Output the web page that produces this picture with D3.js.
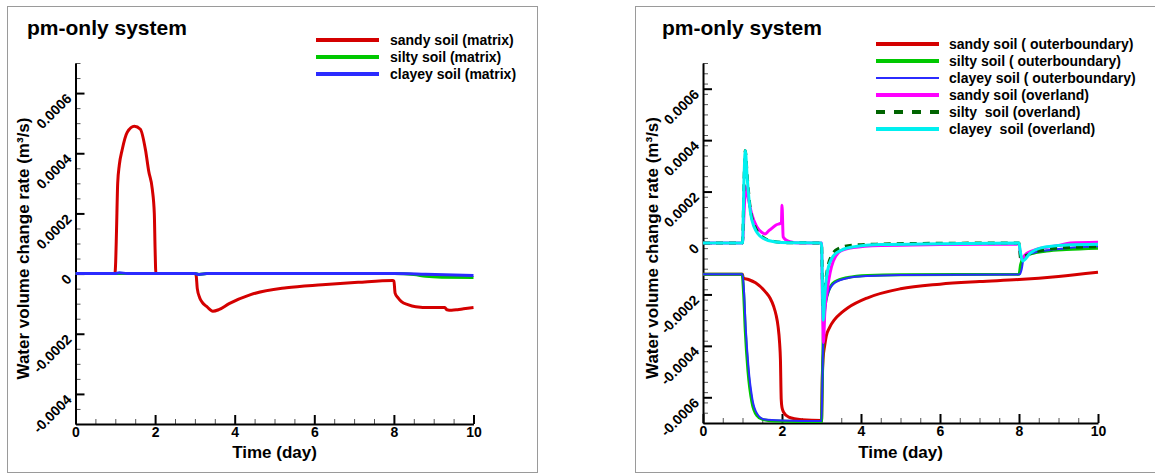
<!DOCTYPE html>
<html><head><meta charset="utf-8">
<script src="https://cdn.jsdelivr.net/npm/d3@7"></script>
<style>
body{margin:0;background:#fff}
svg{display:block}
text{font-family:"Liberation Sans",Arial,Helvetica,sans-serif;font-weight:bold;fill:#000;white-space:pre}
</style>
</head><body>
<svg id="chart" width="1155" height="473"></svg>
<script>
// ---------- tick labels ----------
const timeTicks = [0, 2, 4, 6, 8, 10];
const timeTickLabels = ["0", "2", "4", "6", "8", "10"];
const leftRateTicks = [-0.0004, -0.0002, 0, 0.0002, 0.0004, 0.0006];
const leftRateTickLabels = ["-0.0004", "-0.0002", "0", "0.0002", "0.0004", "0.0006"];
const rightRateTicks = [-0.0006, -0.0004, -0.0002, 0, 0.0002, 0.0004, 0.0006];
const rightRateTickLabels = ["-0.0006", "-0.0004", "-0.0002", "0", "0.0002", "0.0004", "0.0006"];

const panelTitle = "pm-only system";
const xTitle = "Time (day)";
const yTitle = "Water volume change rate (m³/s)";

// ---------- left panel series (matrix) ----------
const leftLabels = ["sandy soil (matrix)", "silty soil (matrix)", "clayey soil (matrix)"];

const sandyMatrixT = [0, 0.99, 1.01, 1.03, 1.06, 1.1, 1.17, 1.3, 1.48, 1.63, 1.76, 1.84, 1.93, 1.98, 2.0, 2.02, 3.0, 3.03, 3.06, 3.12, 3.18, 3.3, 3.45, 3.6, 3.86, 4.4, 5.3, 6.2, 7.1, 7.97, 8.0, 8.03, 8.1, 8.19, 8.35, 8.55, 8.9, 9.28, 9.33, 9.45, 9.6, 9.75, 10];
const sandyMatrixV = [0, 0, 0.00004, 0.00014, 0.0003, 0.00036, 0.00041, 0.00047, 0.00049, 0.00048, 0.00041, 0.00034, 0.00028, 0.0002, 0.00008, 0, 0, -0.000005, -0.00005, -0.00008, -0.000095, -0.00011, -0.000125, -0.00012, -0.0001, -0.00007, -0.000047, -0.000037, -0.000029, -0.000023, -0.000025, -0.000065, -0.00008, -0.000093, -0.000103, -0.00011, -0.000113, -0.000113, -0.00012, -0.000122, -0.00012, -0.000117, -0.000113];

const siltyMatrixT = [0, 3.0, 3.1, 3.3, 8.0, 8.5, 8.8, 9.2, 10];
const siltyMatrixV = [0, 0, -0.000003, 0, 0, -0.000003, -0.000009, -0.000012, -0.000013];

const clayeyMatrixT = [0, 1.0, 1.1, 1.3, 3.0, 3.1, 3.3, 8.0, 8.8, 10];
const clayeyMatrixV = [0, 0, 0.000003, 0, 0, -0.000003, 0, 0, -0.000002, -0.000006];

// ---------- right panel series (outer boundary / overland) ----------
const rightLabels = ["sandy soil ( outerboundary)", "silty soil ( outerboundary)", "clayey soil ( outerboundary)", "sandy soil (overland)", "silty  soil (overland)", "clayey  soil (overland)"];

const sandyOuterT = [0, 1.0, 1.02, 1.15, 1.33, 1.58, 1.7, 1.79, 1.85, 1.9, 1.94, 1.96, 1.98, 2.0, 2.04, 2.17, 2.5, 3.0, 3.02, 3.04, 3.08, 3.12, 3.2, 3.33, 3.5, 3.67, 4.17, 5, 6, 7, 8, 9, 10];
const sandyOuterV = [-0.000122, -0.000122, -0.000136, -0.000142, -0.000155, -0.00019, -0.000215, -0.000247, -0.00028, -0.000324, -0.00039, -0.000452, -0.000607, -0.00064, -0.000658, -0.000677, -0.000687, -0.00069, -0.00052, -0.00045, -0.0004, -0.000362, -0.00033, -0.000298, -0.000272, -0.000252, -0.000213, -0.000178, -0.00016, -0.00015, -0.000142, -0.00013, -0.000114];

const siltyOuterT = [0, 0.99, 1.03, 1.07, 1.14, 1.24, 1.36, 1.52, 1.8, 3.0, 3.02, 3.04, 3.08, 3.17, 3.33, 3.67, 4.17, 5, 8.0, 8.04, 8.1, 8.3, 8.7, 9.2, 10];
const siltyOuterV = [-0.000122, -0.000122, -0.0002, -0.00034, -0.0005, -0.00062, -0.00067, -0.000687, -0.000692, -0.000694, -0.00055, -0.00039, -0.00026, -0.00019, -0.000152, -0.000134, -0.000126, -0.000123, -0.000122, -0.000085, -0.00006, -0.000042, -0.000031, -0.000025, -0.00002];

const clayeyOuterT = [0, 1.0, 1.04, 1.08, 1.15, 1.25, 1.375, 1.54, 2.0, 3.0, 3.02, 3.04, 3.08, 3.17, 3.33, 3.67, 4.17, 5, 8.02, 8.07, 8.12, 8.35, 8.78, 9.2, 10];
const clayeyOuterV = [-0.000122, -0.000122, -0.000193, -0.000325, -0.00048, -0.000607, -0.000665, -0.000685, -0.00069, -0.000692, -0.00056, -0.000387, -0.00026, -0.000193, -0.000155, -0.000136, -0.000128, -0.000124, -0.000122, -0.0001, -0.000058, -0.000039, -0.000027, -0.00002, -0.000013];

const sandyOverT = [0, 1.0, 1.04, 1.08, 1.15, 1.23, 1.36, 1.5, 1.57, 1.65, 1.74, 1.85, 1.96, 1.985, 2.0, 2.03, 2.1, 2.2, 2.45, 3.0, 3.02, 3.05, 3.08, 3.15, 3.3, 3.5, 3.8, 4.5, 6, 8.0, 8.05, 8.2, 8.5, 9.0, 9.3, 10];
const sandyOverV = [0, 0, 0.00012, 0.00022, 0.00017, 0.000115, 0.000063, 0.00004, 0.000035, 0.000045, 0.000057, 0.00007, 0.000076, 0.000078, 0.000147, 0.000024, 0.000012, 0.000005, 0, 0, -0.0002, -0.000387, -0.00028, -0.00018, -0.00007, -0.00003, -0.000018, -0.00001, -0.000006, -0.000004, -0.00006, -0.00004, -0.000022, -0.00001, 0, 0.000003];

const siltyOverT = [0, 1.0, 1.04, 1.07, 1.12, 1.2, 1.3, 1.5, 1.8, 2.2, 3.0, 3.02, 3.04, 3.08, 3.15, 3.25, 3.45, 3.8, 4.5, 6, 8.0, 8.04, 8.1, 8.3, 8.6, 9.0, 10];
const siltyOverV = [0, 0, 0.00025, 0.00036, 0.00026, 0.00013, 0.00007, 0.000025, 0.000006, 0.000001, 0, -0.00013, -0.00025, -0.00018, -0.0001, -0.00005, -0.00002, -0.000008, -0.000004, -0.000001, 0, -0.00006, -0.000055, -0.00004, -0.000028, -0.00002, -0.000014];

const clayeyOverT = [0, 1.0, 1.04, 1.07, 1.12, 1.2, 1.3, 1.5, 1.8, 2.2, 3.0, 3.02, 3.045, 3.08, 3.15, 3.3, 3.5, 3.8, 4.5, 6, 8.0, 8.03, 8.09, 8.28, 8.53, 9.2, 10];
const clayeyOverV = [0, 0, 0.00026, 0.00036, 0.00025, 0.00012, 0.00006, 0.00002, 0.000005, 0.000001, 0, -0.00014, -0.0003, -0.00021, -0.00011, -0.00005, -0.000028, -0.000015, -0.000006, -0.000003, 0, -0.00003, -0.00007, -0.00004, -0.00002, -0.000008, -0.000005];

// ---------- drawing ----------
const svg = d3.select("#chart");
const zip = (t, v) => t.map((d, i) => [d, v[i]]);

function drawPanel(o) {
  const g = svg.append("g");
  // frame
  g.append("rect").attr("x", o.frame[0] + 0.5).attr("y", o.frame[1] + 0.5)
    .attr("width", o.frame[2]).attr("height", o.frame[3])
    .attr("fill", "none").attr("stroke", "#9a9a9a").attr("stroke-width", 1);

  const x = d3.scaleLinear().domain([0, 10]).range([o.x0, o.x1]);
  const y = d3.scaleLinear().domain(o.yDomain).range([o.yBottom, o.yTop]);

  // minor ticks
  const xMinor = d3.range(0, 10.001, 0.5).filter(v => Math.abs(v % 2) > 1e-9);
  const yMinor = d3.range(o.yDomain[0], o.yDomain[1] + 1e-9, o.yMinorStep)
    .filter(v => !o.yTicks.some(t => Math.abs(t - v) < 1e-9));

  g.append("g").attr("transform", `translate(0,${o.yBottom})`)
    .call(d3.axisBottom(x).tickValues(xMinor).tickSizeInner(-5).tickSizeOuter(0).tickFormat(""))
    .call(a => a.select(".domain").remove())
    .call(a => a.selectAll("line").attr("stroke", "#555").attr("stroke-width", 1));
  g.append("g").attr("transform", `translate(${o.x0},0)`)
    .call(d3.axisLeft(y).tickValues(yMinor).tickSizeInner(-5).tickSizeOuter(0).tickFormat(""))
    .call(a => a.select(".domain").remove())
    .call(a => a.selectAll("line").attr("stroke", "#555").attr("stroke-width", 1));

  // major axes
  const xa = g.append("g").attr("transform", `translate(0,${o.yBottom})`)
    .call(d3.axisBottom(x).tickValues(timeTicks).tickSizeInner(-9).tickSizeOuter(0).tickPadding(3)
      .tickFormat((d, i) => timeTickLabels[i]));
  xa.select(".domain").attr("stroke", "#000").attr("stroke-width", 2);
  xa.selectAll("line").attr("stroke", "#000").attr("stroke-width", 2);
  xa.selectAll("text").attr("font-size", 14).attr("font-family", null);

  const ya = g.append("g").attr("transform", `translate(${o.x0},0)`)
    .call(d3.axisLeft(y).tickValues(o.yTicks).tickSizeInner(-9).tickSizeOuter(0)
      .tickFormat((d, i) => o.yTickLabels[i]));
  ya.select(".domain").attr("stroke", "#000").attr("stroke-width", 2);
  ya.selectAll("line").attr("stroke", "#000").attr("stroke-width", 2);
  ya.selectAll("text").attr("font-size", 14).attr("font-family", null)
    .attr("x", null).attr("dy", null).attr("text-anchor", "end")
    .attr("transform", "translate(-3,6) rotate(-45)");

  // titles
  g.append("text").attr("x", o.titleX).attr("y", 35).attr("font-size", 21).text(panelTitle);
  g.append("text").attr("x", (o.x0 + o.x1) / 2).attr("y", 458).attr("text-anchor", "middle")
    .attr("font-size", 17).text(xTitle);
  g.append("text").attr("transform", `translate(${o.yTitleX},${(o.yTop + o.yBottom) / 2 + 5}) rotate(-90)`)
    .attr("text-anchor", "middle").attr("font-size", 17).text(yTitle);

  // series
  const line = d3.line().x(d => x(d[0])).y(d => y(d[1])).curve(d3.curveMonotoneX);
  o.series.forEach(s => {
    g.append("path").datum(zip(s.t, s.v)).attr("d", line)
      .attr("fill", "none").attr("stroke", s.color).attr("stroke-width", s.width)
      .attr("stroke-dasharray", s.dash || null).attr("stroke-linejoin", "round");
  });

  // legend
  o.series.forEach((s, i) => {
    const ly = o.legY + i * o.legStep;
    g.append("line").attr("x1", o.legX).attr("x2", o.legX + o.legLen).attr("y1", ly).attr("y2", ly)
      .attr("stroke", s.color).attr("stroke-width", s.legWidth || s.width + 1).attr("stroke-dasharray", s.legDash || null);
    g.append("text").attr("x", o.legX + o.legLen + o.legGap).attr("y", ly + 5).attr("font-size", 14).text(s.label);
  });
}

drawPanel({
  frame: [7, 6, 530, 466],
  x0: 75.5, x1: 473.5, yTop: 63, yBottom: 424,
  yDomain: [-0.0005, 0.0007], yMinorStep: 0.00005,
  yTicks: leftRateTicks, yTickLabels: leftRateTickLabels,
  titleX: 27, yTitleX: 29,
  legX: 316, legLen: 63, legGap: 11, legY: 40, legStep: 17,
  series: [
    {label: leftLabels[0], t: sandyMatrixT, v: sandyMatrixV, color: "#d40000", width: 3},
    {label: leftLabels[1], t: siltyMatrixT, v: siltyMatrixV, color: "#00c800", width: 3},
    {label: leftLabels[2], t: clayeyMatrixT, v: clayeyMatrixV, color: "#2b2bff", width: 3}
  ]
});

drawPanel({
  frame: [635, 6, 540, 466],
  x0: 703, x1: 1098, yTop: 63, yBottom: 423,
  yDomain: [-0.0007, 0.0007], yMinorStep: 0.00004,
  yTicks: rightRateTicks, yTickLabels: rightRateTickLabels,
  titleX: 662, yTitleX: 658,
  legX: 876, legLen: 63, legGap: 10, legY: 44, legStep: 17,
  series: [
    {label: rightLabels[0], t: sandyOuterT, v: sandyOuterV, color: "#d40000", width: 3},
    {label: rightLabels[1], t: siltyOuterT, v: siltyOuterV, color: "#00c800", width: 3},
    {label: rightLabels[2], t: clayeyOuterT, v: clayeyOuterV, color: "#2b2bff", width: 2, legWidth: 2},
    {label: rightLabels[3], t: sandyOverT, v: sandyOverV, color: "#ff00ff", width: 3},
    {label: rightLabels[4], t: siltyOverT, v: siltyOverV, color: "#006400", width: 3, dash: "7,6", legDash: "9,9"},
    {label: rightLabels[5], t: clayeyOverT, v: clayeyOverV, color: "#00f0f0", width: 3}
  ]
});
</script>
</body></html>
